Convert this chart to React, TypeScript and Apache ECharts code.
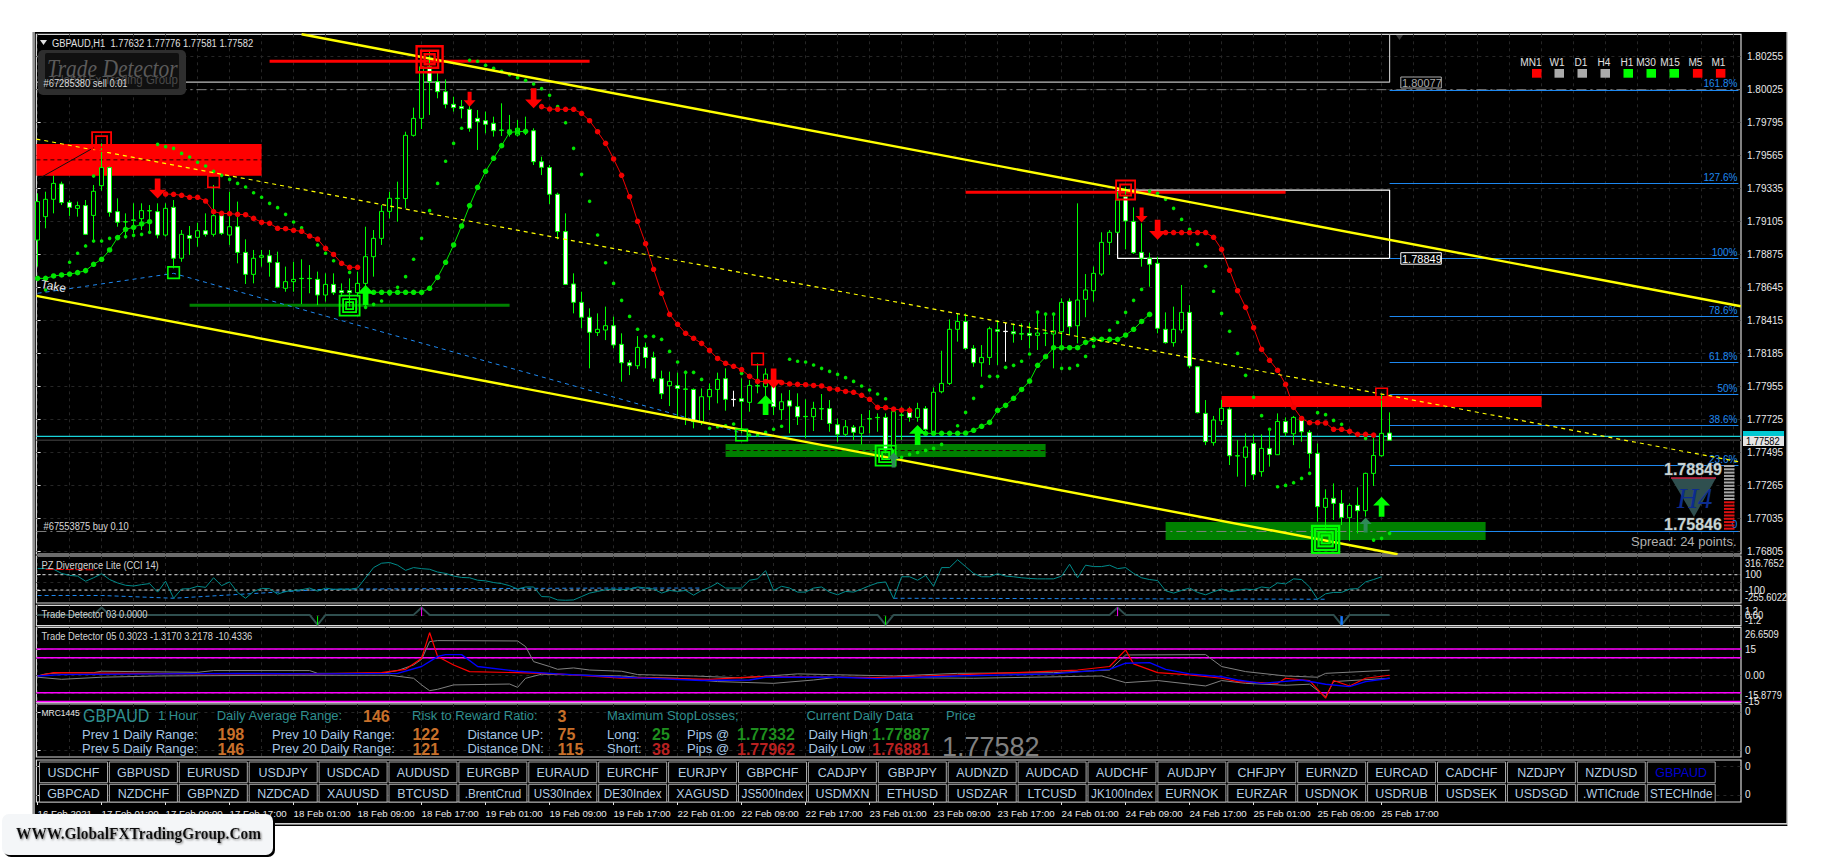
import React, { useEffect, useRef } from "react";
import * as echarts from "echarts";

// All prices are MT4 points: 177632 means 1.77632
const candles = [
[178977,179303,178792,179245],[179140,179314,179059,179261],[179261,179426,179163,179372],[179368,179384,179221,179238],[179240,179256,179145,179205],
[179198,179245,179140,179217],[179217,179256,179012,179017],[179149,179361,178966,179317],[179356,179651,179321,179482],[179482,179489,179140,179170],
[179175,179268,179070,179101],[179105,179163,178989,179103],[179117,179233,179024,179115],[179126,179233,179047,179182],[179182,179221,179036,179180],
[179175,179233,178989,179012],[179012,179233,179001,179198],[179205,179256,178780,178850],[178850,179047,178826,179017],[179008,179075,178873,178989],
[178996,179098,178931,179042],[179042,179163,179001,179017],[179017,179361,179001,179147],[179147,179163,179012,179024],[179012,179314,178943,179070],
[179070,179245,178815,178891],[178891,178982,178671,178738],[178738,178908,178675,178850],[178857,178908,178792,178868],[178868,178908,178722,178822],
[178820,178896,178641,178648],[178641,178792,178617,178687],[178687,178826,178617,178703],[178710,178843,178531,178708],[178710,178803,178606,178708],
[178703,178757,178524,178594],[178594,178745,178548,178668],[178668,178745,178594,178610],[178624,178675,178583,178610],[178624,178710,178513,178610],
[178610,178757,178583,178675],[178675,179070,178501,178861],[178861,179047,178722,178989],[178989,179221,178943,179177],[179177,179314,179128,179268],
[179268,179384,179105,179266],[179266,179732,179198,179707],[179707,179900,179698,179825],[179825,180278,179751,180185],[180185,180302,179849,180081],
[180081,180151,179965,180011],[180011,180097,179895,179923],[179923,179976,179872,179900],[179907,179953,179825,179893],[179888,179930,179732,179756],
[179825,179883,179605,179802],[179809,179872,179721,179784],[179790,179837,179698,179739],[179744,179930,179702,179742],[179744,179849,179698,179742],
[179709,179814,179698,179756],[179737,179837,179709,179735],[179739,179756,179500,179523],[179523,179558,179430,179484],[179482,179500,179228,179296],
[179296,179307,178982,179036],[179036,179163,178664,178668],[178671,178745,178466,178543],[178543,178617,178362,178439],[178439,178501,178083,178334],
[178332,178466,178308,178355],[178350,178513,178280,178380],[178380,178443,178222,178246],[178250,178327,177990,178122],[178122,178141,178036,178101],
[178101,178308,178078,178229],[178229,178262,178083,178159],[178159,178199,177990,178013],[178011,178067,177869,177906],[177962,178060,177820,177992],
[177962,178053,177746,177943],[177939,178067,177688,177937],[177936,177943,177665,177711],[177711,177943,177688,177885],[177885,177978,177792,177936],
[177936,178053,177839,178006],[178011,178083,177788,177867],[177867,177927,177816,177865],[177871,178013,177630,177853],[177846,178001,177781,177964],
[177962,178118,177909,177960],[177955,178083,177816,178043],[178025,178076,177758,177816],[177795,177909,177723,177850],[177857,177932,177630,177820],
[177816,177909,177688,177746],[177748,177867,177595,177746],[177746,177850,177646,177804],[177802,177904,177723,177800],[177802,177862,177641,177699],
[177690,177734,177572,177623],[177623,177723,177607,177676],[177672,177688,177583,177637],[177630,177765,177553,177676],[177732,177792,177630,177730],
[177741,177769,177641,177739],[177741,177769,177490,177514],[177514,177804,177421,177781],[177758,177816,177583,177756],[177776,177816,177711,177741],
[177741,177843,177711,177802],[177802,177820,177641,177658],[177641,177950,177630,177916],[177920,178206,177909,177978],[177978,178424,177967,178355],
[178355,178466,178269,178410],[178410,178466,178211,178222],[178222,178245,178094,178122],[178122,178245,178025,178159],[178159,178373,178106,178359],
[178352,178420,178106,178341],[178341,178401,178129,178339],[178338,178396,178262,178324],[178324,178396,178280,178322],[178327,178401,178222,178313],
[178313,178478,178211,178329],[178329,178471,178238,178327],[178322,178471,178083,178345],[178338,178571,178222,178543],[178550,178571,178315,178373],
[178380,179233,178257,178559],[178564,178740,178439,178629],[178624,178792,178548,178745],[178740,179031,178727,178961],[178961,179047,178873,179031],
[179031,179314,179024,179256],[179279,179349,178912,179110],[179107,179205,178880,178889],[178891,179094,178792,178850],[178850,178889,178652,178808],
[178815,178861,178327,178362],[178355,178473,178255,178262],[178262,178513,178234,178355],[178350,178664,178327,178473],[178473,178524,178083,178099],
[178094,178099,177769,177774],[177769,177862,177548,177572],[177565,177751,177544,177723],[177718,177862,177688,177804],[177799,177811,177409,177474],
[177474,177583,177328,177472],[177463,177630,177258,177535],[177560,177623,177305,177342],[177363,177623,177328,177525],[177525,177665,177398,177483],
[177481,177769,177479,177713],[177713,177741,177607,177634],[177627,177751,177548,177741],[177723,177746,177572,177641],[177637,177653,177386,177490],
[177490,177560,177014,177119],[177114,177240,176956,177177],[177177,177281,177026,177142],[177142,177235,176991,177044],[177042,177142,176882,177128],
[177128,177253,176933,177091],[177091,177356,177049,177351],[177351,177607,177263,177476],[177474,177897,177467,177630],[177632,177776,177581,177582],
];
const whiteDoji = [87, 121];

const maGreen1 = { start: 0, values: [178710,178710,178727,178734,178740,178750,178764,178808,178843,178908,178994,179052,179066,179089,179105] };
const maRed1 = { start: 16, values: [179298,179296,179289,179275,179275,179249,179175,179163,179161,179156,179154,179128,179101,179094,179059,179056,179045,179038,179005,178984,178919,178877,178815,178787,178787] };
const maGreen2 = { start: 42, values: [178613,178613,178613,178613,178613,178613,178613,178641,178717,178822,178943,179075,179217,179344,179456,179547,179635,179728,179732,179735] };
const maRed2 = { start: 63, values: [179907,179890,179888,179888,179888,179860,179809,179732,179651,179542,179428,179279,179108,178952,178773,178606,178459,178390,178327,178292,178257,178208,178152,178118,178097,178074,178027,177992,177991,177990,177983,177974,177971,177969,177964,177960,177941,177936,177922,177916,177895,177867,177811,177809,177799,177792,177790] };
const maGreen3 = { start: 111, values: [177630,177630,177630,177630,177630,177632,177651,177679,177706,177790,177825,177874,177936,177994,178104,178164,178227,178227,178227,178227,178264,178285,178285,178285,178285,178315,178355,178410,178459] };
const maRed3 = { start: 141, values: [179029,179029,179029,179029,179029,179029,178996,178912,178766,178624,178508,178366,178215,178139,178069,177971,177811,177734,177704,177704,177702,177658,177658,177644,177623,177623,177618] };

const sarDots = [
[1,178629],[4,178822],[5,178885],[6,178936],[7,178970],[7,179423],[8,178970],[9,178989],[11,179001],[12,179010],[13,179017],[14,179031],
[15,179644],[16,179628],[17,179616],[18,179581],[19,179556],[20,179519],[21,179493],[22,179456],[23,179428],[24,179400],[25,179372],[26,179347],[27,179307],[28,179275],[29,179233],[30,179203],[31,179156],[32,179103],[33,179063],[35,178943],[36,178885],[37,178833],[39,178752],
[41,178508],[42,178529],[43,178552],[44,178601],[45,178648],[46,178722],[47,178843],[48,178989],[49,179182],[50,179372],[51,179526],[52,179651],[53,179756],
[54,180230],[55,180223],[56,180195],[57,180174],[58,180153],[59,180130],[60,180109],[61,180090],[62,180065],[63,180032],[64,179986],[65,179907],[66,179795],[67,179616],[68,179435],[69,179247],[70,179012],[71,178819],[72,178675],[73,178557],[74,178445],[75,178355],[76,178306],[77,178306],[78,178285],[79,178201],[80,178127],[81,178055],[82,178055],[83,178006],
[84,177665],[85,177676],[86,177683],[87,177695],[88,178048],[89,177618],[90,177618],[91,177637],[92,177658],[93,177679],
[94,178146],[95,178132],[96,178127],[97,178106],[98,178083],[99,178062],[100,178041],[101,178018],[102,177992],[103,177960],[104,177932],[105,177904],[106,177871],
[108,177463],[109,177483],[110,177497],[111,177511],[112,177525],[113,177553],[115,177683],[116,177776],[117,177874],[118,177957],[119,178027],[120,178027],[121,178090],[122,178104],[123,178132],[124,178183],
[125,178475],[126,178461],[127,178461],[128,178083],[129,178083],[130,178104],[131,178166],[132,178236],[134,178348],[135,178403],[136,178473],[137,178557],[138,178633],
[139,179317],[140,179303],[141,179261],[142,179198],[143,179121],[144,179052],[145,178947],[146,178794],[147,178620],[148,178466],[149,178341],[150,178187],[151,178034],[152,177881],[153,177753],[154,177658],
[155,177258],[156,177267],[157,177286],[158,177316],[159,177351],[160,177774],[161,177760],[162,177720],[163,177693],[166,177595],[167,176886],[168,176898],[169,176933],
];

const arrowsDownBig = [[15,179337],[62,179965],[92,178013],[140,179048]];
const arrowsDownSmall = [[54,179958],[138,179152]];
const arrowsUpBig = [[41,178594],[91,177827],[110,177618],[168,177119]];
const arrowsUpDim = [[107,177444],[166,176991]];

const redSquareLarge = [[49,180237]];
const redSquareMedium = [[8,179663],[136,179326]];
const redSquareSmall = [[22,179384],[90,178148],[168,177904]];
const greenSquareSmall = [[17,178750],[88,177618]];
const greenSquareMedium = [[39,178520],[106,177474]];
const greenSquareLarge = [[161,176891]];

const upperChannel = [[33,180411],[212.9,178516]];
const lowerChannel = [[-0.15,178588],[170,176787]];
const midChannel = [[-0.15,179681],[212.9,177429]];
const blueTrend = [[0,178606],[17,178745],[88,177632]];
const blackTrend = [[0,179400],[7,179620]];

const redZoneA = [[-0.15,179647],[28,179425]];
const redZoneB = [[148,177890],[188,177813]];
const greenZoneA = [[86,177556],[126,177465]];
const greenZoneB = [[141,177012],[181,176887]];
const redLevels = [[29,69,180223],[116,156,179310]];
const greenLevels = [[19,59,178522]];
const zoneMidlines = [[-0.15,28,179536],[86,126,177510]];
const orderLevels = [180025,176946];
const askPrice = 177609;
const bidPrice = 177582;
const highBox = [[-0.15,180077],[169,180077],[169,180411]];
const retraceBox = [[135,179325],[169,179325],[169,178849],[135,178849],[135,179325]];
const fibLevels = [
  ["161.8%",180023],["127.6%",179373],["100%",178850],["78.6%",178446],["61.8%",178125],["50%",177902],["38.6%",177686],["23.6%",177407],["0",176951],
] as [string, number][];

const priceTicks = [180255,180025,179795,179565,179335,179105,178875,178645,178415,178185,177955,177725,177495,177265,177035,176805];
const timeLabels = ["16 Feb 2021","17 Feb 01:00","17 Feb 09:00","17 Feb 17:00","18 Feb 01:00","18 Feb 09:00","18 Feb 17:00","19 Feb 01:00","19 Feb 09:00","19 Feb 17:00","22 Feb 01:00","22 Feb 09:00","22 Feb 17:00","23 Feb 01:00","23 Feb 09:00","23 Feb 17:00","24 Feb 01:00","24 Feb 09:00","24 Feb 17:00","25 Feb 01:00","25 Feb 09:00","25 Feb 17:00"];

const cci = [180,180,171,117,91,82,15,60,113,37,-7,-38,-47,-29,-16,-127,15,-207,-87,-82,-51,-65,60,-43,6,-131,-207,-118,-78,-82,-154,-118,-105,-96,-74,-114,-74,-91,-87,-91,-74,60,193,250,259,224,157,193,179,171,135,117,82,64,60,28,20,-2,-16,-43,-87,-60,-60,-185,-189,-229,-233,-229,-185,-140,-118,-96,-87,
-96,-87,-60,-74,-87,-140,-105,-118,-105,-167,-105,-65,-7,-74,-74,-74,28,46,153,-105,-51,-74,-127,-127,-74,-60,-127,-162,-118,-127,-87,-43,-7,6,-211,73,73,28,91,-51,193,193,295,206,117,73,73,113,82,73,60,51,46,46,46,82,237,60,224,206,206,224,179,193,117,60,37,24,-109,-140,-105,-74,-131,-162,-122,-87,-122,-105,-87,-96,-60,-74,-7,-20,46,37,-60,-220,-149,-131,-131,-87,-82,6,37,73];
const cciDivergenceA = [[0,-171],[8,-171],[17,-207],[35,-96],[39,-87],[72,-74],[83,-74]];
const cciDivergenceB = [[107,-207],[161,-220]];
const cciDivergenceC = [[1,171],[7,163]];
const cciLevels = [100,-100];

const td03 = [[0,0],[7,0],[8,1.2],[9,0],[34,0],[35,-1.6],[36,0],[47,0],[48,1.2],[49,0],[105,0],[106,-1.6],[107,0],[134,0],[135,1.2],[136,0],[162,0],[163,-1.6],[164,0],[169,0]];
const td03Magenta = [[48,1.2],[48,-0.2]];
const td03Magenta2 = [[135,1.2],[135,-0.2]];
const td03Green = [[35,-1.6],[35,-0.2]];
const td03Green2 = [[106,-1.6],[106,-0.2]];
const td03Blue = [[163,-1.6],[163,-0.2]];

const td05Upper = [[0,-0.4],[1,0.8],[3,1.5],[7,1.5],[8,2.3],[20,1.7],[22,2.7],[34,2.7],[35,1.1],[43,1.1],[45,2.7],[47,5.9],[48,9.1],[49,19.2],[50,19.8],[60,19.6],[61,16.4],[62,7.8],[64,5],[65,3.4],[67,4.2],[69,3],[73,2.3],[75,0.4],[82,-0.4],[88,-1.5],[95,0.8],[107,-0.4],[115,1.1],[127,1.5],[134,3],[136,11.6],[146,11.8],[148,5],[151,2.1],[156,-0.4],[160,-1.1],[161,1.1],[169,2.9]];
const td05Lower = [[0,-1.1],[3,-2.3],[8,-1.1],[15,-0.4],[30,0],[44,0],[47,-1.7],[48,-5.5],[49,-8.8],[50,-8],[52,-5.5],[59,-5],[60,-6.9],[61,-1.7],[63,0.6],[73,-0.4],[75,-1.1],[80,-1.7],[85,-3.6],[92,-4.6],[97,-2.7],[100,-1.1],[117,-1.7],[133,-0.4],[136,-4.2],[140,-3],[146,-6.1],[148,-3],[151,-4.6],[156,-5.7],[159,-5.1],[161,-12.2],[162,-3.6],[169,-1.7]];
const td05Blue = [[0,-0.4],[3,0.4],[15,0.8],[25,1.1],[35,0.8],[45,1.1],[48,5],[50,10.7],[51,11.8],[53,11.8],[55,5],[60,2.3],[65,0.8],[73,-1.1],[75,-1.5],[83,-3],[89,-2.7],[91,-1.1],[100,-1.1],[105,-1.9],[115,-0.4],[127,0.8],[134,3.4],[136,6.9],[139,7.2],[141,3.4],[144,0.8],[148,-0.8],[150,-2.7],[153,-4.6],[158,-2.7],[161,-5.1],[164,-6.5],[166,-3.6],[169,-1.7]];
const td05Red = [[0,-0.4],[2,1.5],[20,0.8],[35,0.8],[43,1.5],[46,3.4],[48,9.7],[49,24.4],[50,10.7],[52,5.9],[54,2.1],[60,1.5],[65,0.8],[73,-1.7],[75,-1.3],[84,-2.3],[90,-0.8],[105,-1.3],[115,0.2],[130,3],[134,5],[136,14.5],[137,6.5],[140,1.5],[144,0.2],[148,-1.7],[150,-3.6],[155,-4.6],[156,-1.7],[159,-3],[161,-13.1],[162,-3],[164,-6.1],[166,-1.7],[169,0]];
const td05Levels = [15,10,-10,-15];

const tfNames = ["MN1","W1","D1","H4","H1","M30","M15","M5","M1"];
const tfStates = ["red","gray","gray","gray","green","green","green","red","red"];
const buttonsRow1 = ["USDCHF","GBPUSD","EURUSD","USDJPY","USDCAD","AUDUSD","EURGBP","EURAUD","EURCHF","EURJPY","GBPCHF","CADJPY","GBPJPY","AUDNZD","AUDCAD","AUDCHF","AUDJPY","CHFJPY","EURNZD","EURCAD","CADCHF","NZDJPY","NZDUSD","GBPAUD"];
const buttonsRow2 = ["GBPCAD","NZDCHF","GBPNZD","NZDCAD","XAUUSD","BTCUSD",".BrentCrud","US30Index","DE30Index","XAGUSD","JS500Index","USDMXN","ETHUSD","USDZAR","LTCUSD","JK100Index","EURNOK","EURZAR","USDNOK","USDRUB","USDSEK","USDSGD",".WTICrude","STECHInde"];

const SANS = '"Liberation Sans",sans-serif';
const SERIF = '"Liberation Serif",serif';
const LEFT = 36.4, RIGHT = 1741;
const XMIN = -0.15, XMAX = 212.925;
const PANES = [[34.3,554],[556,603],[605.3,625.7],[627.3,702.7],[704,757],[760,802]];
const GREEN = "#00e600", BLUE = "#1e88f0", DIM = "#262626";

const gridXs: number[] = [];
for (let i = 0; i <= 212; i += 4) gridXs.push(i);
const labelXs = timeLabels.map((_, i) => i * 8);

function buildOption() {
  const grid = PANES.map(([t, b]) => ({
    show: true, left: LEFT, width: RIGHT - LEFT, top: t, height: b - t,
    backgroundColor: "#000", borderColor: "#d8d8d8", borderWidth: 1.2,
  }));
  const xAxis = PANES.map((_, i) => {
    const last = i === PANES.length - 1;
    return {
      type: "value", gridIndex: i, min: XMIN, max: XMAX, position: "bottom",
      axisLine: { show: false },
      axisTick: { show: last, customValues: last ? labelXs : gridXs, length: 3, lineStyle: { color: "#e8e8e8" } },
      axisLabel: {
        show: last, customValues: labelXs, color: "#e8e8e8", fontFamily: SANS, fontSize: 9.7, margin: 6, align: "left",
        showMinLabel: true, showMaxLabel: true, hideOverlap: false,
        formatter: (v: number) => timeLabels[Math.round(v / 8)] ?? "",
      },
      splitLine: { show: !last, lineStyle: { color: DIM, type: [3, 4] } },
    };
  });
  const yBase = (i: number, min: number, max: number, ticks: number[], fmt: (v: number) => string, showLab = true, fs = 10, margin = 4) => ({
    type: "value", gridIndex: i, min, max, position: "right",
    axisLine: { show: false },
    axisTick: { show: true, customValues: ticks, length: 3, lineStyle: { color: "#e8e8e8" } },
    axisLabel: { show: showLab, customValues: ticks, color: "#e8e8e8", fontFamily: SANS, fontSize: fs, margin, formatter: fmt, showMinLabel: true, showMaxLabel: true, hideOverlap: false },
    splitLine: { show: true, lineStyle: { color: DIM, type: [3, 4] } },
  });
  const yAxis = [
    yBase(0, 176789, 180411, priceTicks, (v) => (v / 100000).toFixed(5), true, 10, 6),
    yBase(1, -269, 344, [100, 0, -100], (v) => (v === 0 ? "0.00" : String(v))),
    yBase(2, -1.75, 1.55, [0], () => "", false),
    yBase(3, -15.66, 27.4, [15, 10, 0, -10, -15], (v) => (v === 0 ? "0.00" : String(v))),
    yBase(4, 0, 1, [0.85, 0.12], () => "0"),
    yBase(5, 0, 1, [0.85, 0.17], () => "0"),
  ];

  const line = (pts: number[][], color: string, width: number, z: number, pane = 0, type: any = "solid", name = "") => ({
    type: "line", name, xAxisIndex: pane, yAxisIndex: pane, data: pts, showSymbol: false, symbol: "none", z,
    lineStyle: { color, width, type }, silent: true, animation: false,
  });
  const ma = (seg: { start: number; values: number[] }, color: string, name: string) => ({
    type: "line", name, xAxisIndex: 0, yAxisIndex: 0, z: 6, symbol: "circle", symbolSize: 5.5, showSymbol: true, showAllSymbol: true,
    data: seg.values.map((v, i) => [seg.start + i, v]),
    itemStyle: { color }, lineStyle: { color, width: 1 }, silent: true,
  });
  const zones = (pts: number[][], color: string) => ({ coords: pts, color });
  const zoneSeries = {
    type: "line", xAxisIndex: 0, yAxisIndex: 0, data: [], z: 1, silent: true,
    markArea: {
      silent: true, z: 1,
      data: [zones(redZoneA, "#ff0000"), zones(redZoneB, "#ff0000"), zones(greenZoneA, "#008000"), zones(greenZoneB, "#008000")].map((zn) => [
        { coord: zn.coords[0], itemStyle: { color: zn.color, opacity: 1 } },
        { coord: zn.coords[1] },
      ]),
    },
  };
  const fibSeries = {
    type: "line", xAxisIndex: 0, yAxisIndex: 0, data: [], z: 4, silent: true,
    markLine: {
      silent: true, symbol: "none", z: 4, precision: 5,
      lineStyle: { color: BLUE, width: 1.2, type: "solid" },
      label: { show: true, position: "insideEndTop", formatter: "{b}", color: BLUE, fontFamily: SANS, fontSize: 10, distance: 1 },
      data: fibLevels.map(([n, p]) => [{ coord: [169, p], name: n }, { coord: [212.6, p] }]),
    },
  };
  const scatter = (pts: number[][], symbol: string, size: any, color: string, z: number) => ({
    type: "scatter", xAxisIndex: 0, yAxisIndex: 0, data: pts, symbol, symbolSize: size, z, silent: true,
    itemStyle: { color, opacity: 1 },
  });
  const ARROW_DOWN = "path://M4 0H8V9H12L6 16 0 9H4Z";
  const ARROW_UP = "path://M4 16H8V7H12L6 0 0 7H4Z";
  const nested = (pts: number[][], color: string, sizes: number[], bw: number) =>
    sizes.map((s) => ({
      type: "scatter", xAxisIndex: 0, yAxisIndex: 0, data: pts, symbol: "rect", symbolSize: s, z: 8, silent: true,
      itemStyle: { color: "rgba(0,0,0,0)", borderColor: color, borderWidth: bw, opacity: 1 },
    }));

  const series: any[] = [
    zoneSeries,
    ...zoneMidlines.map(([a, b, p]) => line([[a, p], [b, p]], "#200000", 1, 2, 0, [4, 3])),
    ...orderLevels.map((p) => line([[XMIN, p], [XMAX, p]], "#808080", 1, 2, 0, [10, 4, 2, 4])),
    line([[XMIN, bidPrice], [XMAX, bidPrice]], "#303030", 1.5, 2),
    line([[XMIN, askPrice], [XMAX, askPrice]], "#19d3da", 1.2, 2),
    line(highBox, "#bdbdbd", 1.2, 3),
    line(retraceBox, "#ffffff", 1.2, 3),
    ...redLevels.map(([a, b, p]) => line([[a, p], [b, p]], "#ff0000", 3, 3)),
    ...greenLevels.map(([a, b, p]) => line([[a, p], [b, p]], "#008000", 3, 3)),
    fibSeries,
    {
      type: "candlestick", name: "GBPAUD,H1", xAxisIndex: 0, yAxisIndex: 0, z: 3, barWidth: 5, silent: true,
      encode: { x: 0, y: [1, 2, 3, 4] },
      itemStyle: { color: "#000", color0: "#fff", borderColor: "#00ff00", borderColor0: "#00ff00", borderColorDoji: "#00ff00", borderWidth: 1 },
      data: candles.map((r, i) => {
        const value = [i, r[0], r[3], r[2], r[1]];
        return whiteDoji.includes(i) ? { value, itemStyle: { borderColor: "#fff", borderColor0: "#fff", borderColorDoji: "#fff" } } : value;
      }),
    },
    scatter(sarDots, "circle", 3.6, GREEN, 5),
    ma(maGreen1, GREEN, "ma1"), ma(maRed1, "#f00000", "ma2"), ma(maGreen2, GREEN, "ma3"),
    ma(maRed2, "#f00000", "ma4"), ma(maGreen3, GREEN, "ma5"), ma(maRed3, "#f00000", "ma6"),
    line(midChannel, "#ffff00", 1.2, 7, 0, [4, 4]),
    line(blueTrend, BLUE, 1, 7, 0, [4, 4]),
    line(blackTrend, "#101010", 1, 7),
    line(upperChannel, "#ffff00", 2.4, 7),
    line(lowerChannel, "#ffff00", 2.4, 7),
    ...nested(redSquareLarge, "#ff0000", [26, 17, 10], 2.4),
    ...nested(redSquareMedium, "#ff0000", [19, 11], 1.8),
    ...nested(redSquareSmall, "#ff0000", [11.5], 1.6),
    ...nested(greenSquareSmall, "#00ff00", [11.5], 1.6),
    ...nested(greenSquareMedium, "#00ff00", [20, 13, 7], 1.8),
    ...nested(greenSquareLarge, "#00ff00", [27, 21, 14, 8], 2.4),
    scatter(arrowsDownBig, ARROW_DOWN, [17, 20], "#ff0000", 9),
    scatter(arrowsDownSmall, ARROW_DOWN, [12, 15], "#ff0000", 9),
    scatter(arrowsUpBig, ARROW_UP, [17, 20], "#00ff00", 9),
    scatter(arrowsUpDim, ARROW_UP, [12, 15], "#2e8b57", 9),
    // CCI pane
    ...cciLevels.map((l) => line([[XMIN, l], [XMAX, l]], "#e0e0e0", 1, 2, 1, [3, 3])),
    line(cci.map((v, i) => [i, v]), "#008b8b", 1, 4, 1, "solid", "CCI 14"),
    line(cciDivergenceA, BLUE, 1, 3, 1, [4, 3]),
    line(cciDivergenceB, BLUE, 1, 3, 1, [4, 3]),
    line(cciDivergenceC, "#ff0000", 1, 5, 1, [8, 2]),
    // Trade Detector 03
    line(td03, "#2f4f4f", 2, 3, 2, "solid", "Trade Detector 03"),
    line(td03Magenta, "#ff00ff", 1, 4, 2), line(td03Magenta2, "#ff00ff", 1, 4, 2),
    line(td03Green, "#00ff00", 1, 4, 2), line(td03Green2, "#00ff00", 1, 4, 2),
    line(td03Blue, "#1478ff", 2.5, 4, 2),
    // Trade Detector 05
    ...td05Levels.map((l) => line([[XMIN, l], [XMAX, l]], "#ff00ff", 1.6, 2, 3)),
    line(td05Upper, "#808080", 1, 3, 3), line(td05Lower, "#808080", 1, 3, 3),
    line(td05Red, "#ff0000", 1.2, 4, 3, "solid", "Trade Detector 05"),
    line(td05Blue, "#0000ff", 1.4, 5, 3),
  ];

  const t = (text: string, x: number, y: number, fill: string, font: string, extra: any = {}) => ({
    type: "text", z: 50, silent: true, x, y, ...extra.el,
    style: { text, x: 0, y: 0, fill, font, verticalAlign: "middle", align: "left", ...extra.style },
  });
  // squeezed MT4 system-font look
  const n = (text: string, x: number, y: number, fill: string, size = 11, sx = 0.85, align = "left") =>
    t(text, x, y, fill, `${size}px ${SANS}`, { el: { scaleX: sx }, style: { align } });
  const f = (size: number, fam = SANS, weight = "") => `${weight} ${size}px ${fam}`.trim();
  const TEAL = "#2f8f8f", PALE = "#a4c6e4", ORANGE = "#c8702a", DGREEN = "#1e8f1e", DRED = "#b82020";
  const LAB = "#e8e8e8";

  const g: any[] = [
    { type: "rect", z: -5, silent: true, shape: { x: 33, y: 32, width: 1753.5, height: 791 }, style: { fill: "#000" } },
    { type: "rect", z: -4, silent: true, shape: { x: 32.4, y: 32, width: 2.6, height: 791 }, style: { fill: "#909090" } },
    { type: "rect", z: -4, silent: true, shape: { x: 32.4, y: 823, width: 1755, height: 1 }, style: { fill: "#d0d0d0" } },
    { type: "rect", z: -4, silent: true, shape: { x: 32.4, y: 824.5, width: 1755, height: 1.4 }, style: { fill: "#000" } },
    { type: "rect", z: -4, silent: true, shape: { x: 1787, y: 32, width: 1, height: 792 }, style: { fill: "#d0d0d0" } },
    // header + logo
    { type: "polygon", z: 50, silent: true, shape: { points: [[40, 40], [47, 40], [43.5, 45]] }, style: { fill: "#e0e0e0" } },
    n("GBPAUD,H1  1.77632 1.77776 1.77581 1.77582", 52, 43, "#e0e0e0"),
    { type: "polygon", z: 50, silent: true, shape: { points: [[1396, 35], [1403, 35], [1399.5, 40]] }, style: { fill: "#3a3a3a" } },
    { type: "rect", z: 48, silent: true, shape: { x: 38, y: 50, width: 148, height: 45, r: 5 }, style: { fill: "#2e2e2e" } },
    { type: "rect", z: 49, silent: true, shape: { x: 45, y: 53, width: 134, height: 36, r: 2 }, style: { fill: "#101010" } },
    t("Trade Detector", 47, 68, "#5a5a5a", f(25, SERIF, "italic"), { el: { scaleX: 0.86 } }),
    t("Global Fx Trading Group", 52, 80, "#4a4a4a", f(12.5), { el: { scaleX: 0.92 } }),
    n("#67285380 sell 0.01", 43.5, 83.5, "#d8d8d8"),
    n("#67553875 buy 0.10", 43.5, 525.8, "#d8d8d8"),
    t("Take", 41, 284, "#e8e8e8", f(12), { el: { rotation: -0.18 } }),
    // trade price tags
    { type: "rect", z: 49, silent: true, shape: { x: 1400.8, y: 77, width: 40.5, height: 11 }, style: { fill: "#000", stroke: "#aaaaaa", lineWidth: 1 } },
    t("1.80077", 1402, 83, "#aaaaaa", f(11)),
    { type: "rect", z: 49, silent: true, shape: { x: 1400.8, y: 252.7, width: 40.5, height: 11.5 }, style: { fill: "#000", stroke: "#ffffff", lineWidth: 1 } },
    t("1.78849", 1402, 258.7, "#ffffff", f(11)),
    { type: "rect", z: 49, silent: true, shape: { x: 1743, y: 431, width: 41, height: 6 }, style: { fill: "#00c8d2" } },
    { type: "rect", z: 49, silent: true, shape: { x: 1743, y: 436, width: 41, height: 10 }, style: { fill: "#e4e4e4" } },
    n("1.77582", 1746, 441.2, "#000"),
    // H4 badge
    { type: "polygon", z: 45, silent: true, shape: { points: [[1671, 478], [1716, 478], [1694, 517]] }, style: { fill: "#2f4f4f" } },
    { type: "line", z: 46, silent: true, shape: { x1: 1671, y1: 478, x2: 1716, y2: 478 }, style: { stroke: "#d02040", lineWidth: 1.4 } },
    t("H4", 1677, 498, "#0c2c90", f(29, SERIF, "italic")),
    t("1.78849", 1664, 469, "#c8d4d4", f(16, SANS, "bold"), { style: { stroke: "#303030", lineWidth: 1 } }),
    t("1.75846", 1664, 524, "#c8d4d4", f(16, SANS, "bold"), { style: { stroke: "#303030", lineWidth: 1 } }),
    t("Spread: 24 points.", 1631, 541.7, "#b0b0b0", f(13)),
    // pane titles and fixed scale values
    n("PZ Divergence Lite (CCI 14)", 41.5, 565.5, "#d4d4d4"),
    n("Trade Detector 03 0.0000", 41.5, 614.7, "#d4d4d4"),
    n("Trade Detector 05 0.3023 -1.3170 3.2178 -10.4336", 41.5, 636.7, "#d4d4d4"),
    n("316.7652", 1745, 563.5, LAB),
    n("-255.6022", 1745, 597.2, LAB),
    n("1.2", 1745, 611.7, LAB),
    n("0.00", 1745, 615, LAB),
    n("-1.2", 1745, 620, LAB),
    n("26.6509", 1745, 634.7, LAB),
    n("-15.8779", 1745, 695.7, LAB),
    // info panel
    t("MRC1445", 41.5, 713, LAB, f(8.5)),
    t("GBPAUD", 83, 715.7, TEAL, f(18), { el: { scaleX: 0.89 } }),
    t("1 Hour", 158, 715.7, TEAL, f(13)),
    t("Daily Average Range:", 216.7, 715.7, TEAL, f(13)),
    t("146", 363, 716, ORANGE, f(16, SANS, "bold")),
    t("Risk to Reward Ratio:", 412, 715.7, TEAL, f(13)),
    t("3", 557.5, 716, ORANGE, f(16, SANS, "bold")),
    t("Prev 1 Daily Range:", 82, 734, PALE, f(13)),
    t("198", 217.5, 734.5, ORANGE, f(16, SANS, "bold")),
    t("Prev 10 Daily Range:", 272, 734, PALE, f(13)),
    t("122", 412.4, 734.5, ORANGE, f(16, SANS, "bold")),
    t("Distance UP:", 467.4, 734, PALE, f(13)),
    t("75", 557.5, 734.5, ORANGE, f(16, SANS, "bold")),
    t("Prev 5 Daily Range:", 82, 748.7, PALE, f(13)),
    t("146", 217.5, 749.2, ORANGE, f(16, SANS, "bold")),
    t("Prev 20 Daily Range:", 272, 748.7, PALE, f(13)),
    t("121", 412.4, 749.2, ORANGE, f(16, SANS, "bold")),
    t("Distance DN:", 467.4, 748.7, PALE, f(13)),
    t("115", 557.5, 749.2, ORANGE, f(16, SANS, "bold")),
    t("Maximum StopLosses;", 607, 715.7, TEAL, f(13)),
    t("Current Daily Data", 806.4, 715.7, TEAL, f(13)),
    t("Price", 946, 715.7, TEAL, f(13)),
    t("Long:", 607, 734, PALE, f(13)),
    t("25", 652, 734.5, DGREEN, f(16, SANS, "bold")),
    t("Pips @", 687, 734, PALE, f(13)),
    t("1.77332", 737, 734.5, DGREEN, f(16, SANS, "bold")),
    t("Daily High", 808.4, 734, PALE, f(13)),
    t("1.77887", 872, 734.5, DGREEN, f(16, SANS, "bold")),
    t("Short:", 607, 748.7, PALE, f(13)),
    t("38", 652, 749.2, DRED, f(16, SANS, "bold")),
    t("Pips @", 687, 748.7, PALE, f(13)),
    t("1.77962", 737, 749.2, DRED, f(16, SANS, "bold")),
    t("Daily Low", 808.4, 748.7, PALE, f(13)),
    t("1.76881", 872, 749.2, DRED, f(16, SANS, "bold")),
    t("1.77582", 942, 746.7, "#808080", f(27)),
    // site badge
    { type: "rect", z: 60, silent: true, shape: { x: 4, y: 816, width: 271, height: 41, r: 7 }, style: { fill: "#000" } },
    { type: "rect", z: 61, silent: true, shape: { x: 2, y: 814, width: 271, height: 41, r: 7 }, style: { fill: "#f4f6f8" } },
    { ...t("WWW.GlobalFXTradingGroup.Com", 16, 833, "#111", f(17.5, SERIF, "bold"), { el: { scaleX: 0.88 }, style: { textShadowColor: "#777", textShadowBlur: 2, textShadowOffsetX: 1, textShadowOffsetY: 1 } }), z: 62 },
  ];

  // stoch-like ladder next to the H4 badge
  for (let k = 0; k < 20; k++) {
    g.push({ type: "rect", z: 46, silent: true, shape: { x: 1724, y: 465 + k * 3.3, width: 10.5, height: 2 }, style: { fill: k < 11 ? "#a8a8a8" : "#e01010" } });
  }
  // timeframe grid
  const tfLabelX = [1531, 1557, 1581, 1604, 1627, 1646, 1670, 1695.4, 1718.4];
  const tfBoxX = [1532, 1554.5, 1577.5, 1600.5, 1623.5, 1646.5, 1669.5, 1692.9, 1715.9];
  const tfColor: Record<string, string> = { red: "#ff0000", gray: "#aaaaaa", green: "#00ff00" };
  tfNames.forEach((name, i) => {
    g.push(n(name, tfLabelX[i], 62, "#e0e0e0", 11.5, 0.88, "center"));
    g.push({ type: "rect", z: 50, silent: true, shape: { x: tfBoxX[i], y: 69, width: 9.5, height: 8.7 }, style: { fill: tfColor[tfStates[i]] } });
  });
  // symbol buttons
  [buttonsRow1, buttonsRow2].forEach((row, r) => {
    const y = r === 0 ? 762 : 784.3;
    const h = r === 0 ? 20.7 : 17.7;
    row.forEach((name, i) => {
      const x = 39.5 + i * 69.9;
      g.push({ type: "rect", z: 50, silent: true, shape: { x, y, width: 68, height: h }, style: { fill: "#000", stroke: "#a8a8a8", lineWidth: 1 } });
      g.push(t(name, x + 34, y + h / 2 + 0.5, name === "GBPAUD" && r === 0 && i === 23 ? "#0000d0" : "#b4cce0", f(13), { el: { scaleX: name.length > 8 ? 0.9 : 0.96 }, style: { align: "center" } }));
    });
  });

  return { animation: false, backgroundColor: "#ffffff", grid, xAxis, yAxis, series, graphic: { elements: g }, tooltip: { show: false }, legend: { show: false } };
}

export default function App() {
  const ref = useRef<HTMLDivElement>(null);
  useEffect(() => {
    document.body.style.margin = "0";
    const chart = echarts.init(ref.current!, undefined, { renderer: "svg" });
    chart.setOption(buildOption() as any);
    return () => chart.dispose();
  }, []);
  return <div ref={ref} style={{ width: 1822, height: 858, background: "#fff" }} />;
}
